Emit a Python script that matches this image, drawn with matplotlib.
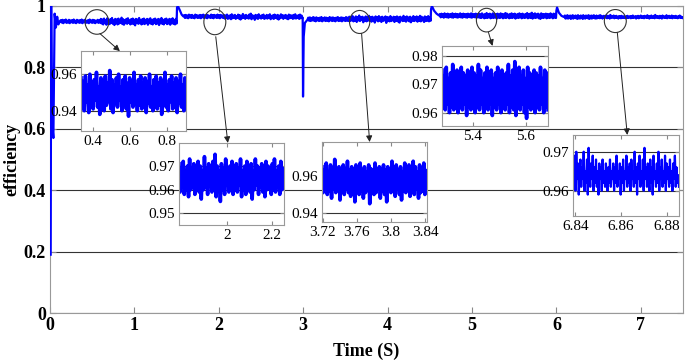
import numpy as np
import matplotlib
matplotlib.use("Agg")
import matplotlib.pyplot as plt
from matplotlib.patches import Ellipse

plt.rcParams['font.family'] = ['Liberation Serif', 'DejaVu Serif']

# ---- main trace ----
start_t = [0.008, 0.014, 0.024, 0.04, 0.055, 0.07, 0.085, 0.10, 0.12]
start_v = [0.19, 1.0, 0.62, 0.57, 0.975, 0.93, 0.965, 0.94, 0.952]

seg1 = [0.954, 0.946, 0.955, 0.944, 0.953, 0.947, 0.956, 0.945, 0.952, 0.946,
        0.955, 0.944, 0.953, 0.947, 0.954, 0.945, 0.956, 0.946, 0.952, 0.944,
        0.955, 0.947, 0.953, 0.945, 0.954, 0.946, 0.956, 0.944, 0.953, 0.947,
        0.955, 0.945, 0.952, 0.946, 0.954, 0.944, 0.956, 0.947, 0.953, 0.945,
        0.955, 0.946, 0.954, 0.944, 0.952, 0.947, 0.955, 0.945, 0.953, 0.946]
seg2 = [0.970, 0.961, 0.971, 0.962, 0.969, 0.960, 0.972, 0.963, 0.970, 0.961,
        0.971, 0.962, 0.968, 0.960, 0.972, 0.963, 0.970, 0.961, 0.969, 0.962,
        0.971, 0.960, 0.970, 0.963, 0.972, 0.961, 0.969, 0.962, 0.971, 0.960,
        0.970, 0.963, 0.968, 0.961, 0.972, 0.962, 0.970, 0.960, 0.971, 0.963,
        0.969, 0.961, 0.972, 0.962, 0.970, 0.960, 0.971, 0.963, 0.969, 0.961]
seg3 = [0.962, 0.952, 0.963, 0.951, 0.961, 0.953, 0.964, 0.952, 0.962, 0.950,
        0.963, 0.953, 0.961, 0.951, 0.962, 0.952, 0.964, 0.950, 0.961, 0.953,
        0.963, 0.951, 0.962, 0.952, 0.961, 0.950, 0.964, 0.953, 0.962, 0.951,
        0.963, 0.952, 0.961, 0.950, 0.962, 0.953, 0.964, 0.951, 0.961, 0.952,
        0.963, 0.950, 0.962, 0.953, 0.961, 0.951, 0.964, 0.952, 0.962, 0.951]
seg4 = [0.974, 0.963, 0.975, 0.964, 0.973, 0.962, 0.976, 0.964, 0.974, 0.963,
        0.975, 0.962, 0.973, 0.964, 0.974, 0.963, 0.976, 0.962, 0.973, 0.964,
        0.975, 0.963, 0.974, 0.962, 0.973, 0.964, 0.976, 0.963, 0.974, 0.962,
        0.975, 0.964, 0.973, 0.963, 0.974, 0.962, 0.975, 0.964, 0.973, 0.963,
        0.976, 0.962, 0.974, 0.964, 0.973, 0.963, 0.975, 0.962, 0.974, 0.963]
seg5 = [0.969, 0.959, 0.968, 0.960, 0.970, 0.959, 0.967, 0.961, 0.969, 0.958,
        0.968, 0.960, 0.970, 0.959, 0.967, 0.961, 0.969, 0.960, 0.968, 0.958,
        0.970, 0.960, 0.967, 0.959, 0.969, 0.961, 0.968, 0.958, 0.970, 0.960,
        0.967, 0.959, 0.969, 0.961, 0.968, 0.960, 0.970, 0.958, 0.967, 0.960,
        0.969, 0.959, 0.968, 0.961, 0.970, 0.960, 0.967, 0.959, 0.969, 0.960]
seg_spans = [(0.13, 1.50), (1.59, 2.99), (3.06, 4.51), (4.62, 5.995), (6.10, 7.5)]

step1_t = [1.505, 1.515, 1.54, 1.56, 1.58]
step1_v = [0.995, 1.0, 0.985, 0.972, 0.966]
dip_t = [2.994, 2.998, 3.006, 3.02, 3.05]
dip_v = [0.962, 0.705, 0.90, 0.945, 0.955]
step2_t = [4.515, 4.525, 4.55, 4.58, 4.61]
step2_v = [0.99, 1.0, 0.985, 0.975, 0.969]
step3_t = [6.0, 6.008, 6.03, 6.06, 6.09]
step3_v = [0.985, 0.995, 0.978, 0.968, 0.964]

# ---- zoomed windows ----
ins1 = [0.958, 0.943, 0.956, 0.940, 0.959, 0.945, 0.954, 0.939, 0.960, 0.944,
        0.955, 0.941, 0.957, 0.946, 0.961, 0.942, 0.953, 0.938, 0.958, 0.944,
        0.956, 0.940, 0.959, 0.943, 0.955, 0.945, 0.962, 0.941, 0.957, 0.939,
        0.954, 0.944, 0.958, 0.942, 0.960, 0.946, 0.953, 0.940, 0.957, 0.943,
        0.959, 0.941, 0.955, 0.937, 0.958, 0.945, 0.956, 0.942, 0.961, 0.944,
        0.954, 0.940, 0.957, 0.943, 0.959, 0.941, 0.955, 0.946, 0.958, 0.939,
        0.956, 0.944, 0.960, 0.942, 0.953, 0.940, 0.957, 0.945, 0.959, 0.941,
        0.955, 0.943, 0.958, 0.938, 0.956, 0.944, 0.961, 0.942, 0.954, 0.940,
        0.957, 0.945, 0.959, 0.941, 0.955, 0.943, 0.958, 0.939, 0.956, 0.944,
        0.960, 0.942, 0.954, 0.940, 0.958, 0.943]
ins2 = [0.971, 0.959, 0.969, 0.961, 0.972, 0.958, 0.968, 0.960, 0.970, 0.957,
        0.973, 0.960, 0.969, 0.962, 0.971, 0.958, 0.967, 0.961, 0.972, 0.959,
        0.970, 0.956, 0.968, 0.960, 0.974, 0.961, 0.969, 0.958, 0.971, 0.962,
        0.968, 0.959, 0.972, 0.960, 0.975, 0.957, 0.970, 0.961, 0.968, 0.955,
        0.971, 0.960, 0.969, 0.958, 0.973, 0.962, 0.968, 0.959, 0.970, 0.961,
        0.972, 0.958, 0.967, 0.960, 0.971, 0.959, 0.969, 0.962, 0.973, 0.957,
        0.968, 0.960, 0.970, 0.958, 0.972, 0.961, 0.969, 0.959, 0.971, 0.956,
        0.968, 0.960, 0.973, 0.962, 0.970, 0.958, 0.969, 0.961, 0.971, 0.959,
        0.968, 0.957, 0.972, 0.960, 0.970, 0.962, 0.969, 0.958, 0.971, 0.960,
        0.973, 0.959, 0.968, 0.961, 0.970, 0.958, 0.972, 0.960, 0.969, 0.961]
ins3 = [0.965, 0.951, 0.963, 0.953, 0.967, 0.950, 0.962, 0.952, 0.966, 0.948,
        0.964, 0.953, 0.969, 0.951, 0.963, 0.954, 0.965, 0.947, 0.962, 0.952,
        0.966, 0.950, 0.964, 0.953, 0.968, 0.951, 0.963, 0.949, 0.965, 0.952,
        0.962, 0.946, 0.966, 0.953, 0.964, 0.950, 0.967, 0.952, 0.963, 0.948,
        0.965, 0.951, 0.962, 0.953, 0.966, 0.945, 0.964, 0.952, 0.963, 0.950,
        0.967, 0.951, 0.962, 0.953, 0.965, 0.948, 0.964, 0.952, 0.966, 0.950,
        0.963, 0.946, 0.965, 0.953, 0.962, 0.951, 0.968, 0.952, 0.964, 0.949,
        0.966, 0.953, 0.963, 0.950, 0.965, 0.947, 0.962, 0.952, 0.967, 0.951,
        0.964, 0.953, 0.966, 0.949, 0.963, 0.952, 0.968, 0.950, 0.965, 0.953,
        0.962, 0.948, 0.966, 0.951, 0.964, 0.952, 0.967, 0.950, 0.963, 0.952]
ins4 = [0.975, 0.962, 0.973, 0.961, 0.976, 0.963, 0.972, 0.960, 0.974, 0.962,
        0.977, 0.961, 0.973, 0.963, 0.975, 0.960, 0.972, 0.962, 0.976, 0.961,
        0.974, 0.963, 0.973, 0.959, 0.975, 0.962, 0.972, 0.961, 0.976, 0.963,
        0.974, 0.960, 0.973, 0.962, 0.977, 0.961, 0.975, 0.963, 0.972, 0.960,
        0.974, 0.962, 0.976, 0.961, 0.973, 0.963, 0.975, 0.959, 0.972, 0.962,
        0.974, 0.961, 0.976, 0.963, 0.973, 0.960, 0.975, 0.962, 0.972, 0.961,
        0.974, 0.963, 0.977, 0.960, 0.973, 0.962, 0.975, 0.961, 0.978, 0.959,
        0.974, 0.962, 0.976, 0.961, 0.973, 0.963, 0.975, 0.960, 0.972, 0.958,
        0.976, 0.962, 0.974, 0.961, 0.973, 0.963, 0.975, 0.960, 0.974, 0.962,
        0.973, 0.961, 0.976, 0.963, 0.972, 0.960, 0.975, 0.962, 0.974, 0.961]
ins5 = [0.966, 0.962, 0.969, 0.960, 0.970, 0.963, 0.967, 0.959, 0.964, 0.968,
        0.961, 0.966, 0.963, 0.970, 0.960, 0.965, 0.962, 0.968, 0.959, 0.971,
        0.964, 0.961, 0.967, 0.963, 0.969, 0.960, 0.966, 0.962, 0.968, 0.961,
        0.965, 0.959, 0.967, 0.963, 0.966, 0.960, 0.968, 0.962, 0.965, 0.961,
        0.967, 0.964, 0.960, 0.966, 0.962, 0.968, 0.961, 0.965, 0.963, 0.967,
        0.960, 0.966, 0.962, 0.969, 0.961, 0.965, 0.963, 0.967, 0.959, 0.966,
        0.962, 0.968, 0.960, 0.965, 0.963, 0.969, 0.961, 0.966, 0.962, 0.967,
        0.960, 0.968, 0.963, 0.965, 0.961, 0.970, 0.962, 0.966, 0.959, 0.967,
        0.963, 0.969, 0.961, 0.965, 0.962, 0.968, 0.960, 0.971, 0.963, 0.966,
        0.961, 0.967, 0.964, 0.960, 0.968, 0.962, 0.966, 0.959, 0.969, 0.963,
        0.965, 0.961, 0.967, 0.962, 0.970, 0.960, 0.966, 0.963, 0.968, 0.961,
        0.965, 0.962, 0.969, 0.960, 0.967, 0.963, 0.966, 0.961, 0.968, 0.962,
        0.965, 0.960, 0.967, 0.963, 0.969, 0.961, 0.966, 0.962, 0.964, 0.961]

insets = [
    # values, xlim, ylim, xticks, xticklabels, yticks, yticklabels, pixel box (x0, top, x1, bottom), lw
    (ins1, (0.335, 0.903), (0.9289, 0.9727), [0.4, 0.6, 0.8], ['0.4', '0.6', '0.8'],
     [0.94, 0.96], ['0.94', '0.96'], (81, 51, 186, 131), 2.6),
    (ins2, (1.787, 2.253), (0.945, 0.9798), [2.0, 2.2], ['2', '2.2'],
     [0.95, 0.96, 0.97], ['0.95', '0.96', '0.97'], (179, 143, 284, 225), 2.6),
    (ins3, (3.719, 3.842), (0.9351, 0.9784), [3.72, 3.76, 3.80, 3.84], ['3.72', '3.76', '3.8', '3.84'],
     [0.94, 0.96], ['0.94', '0.96'], (322, 142, 427, 222), 2.6),
    (ins4, (5.283, 5.683), (0.9553, 0.9835), [5.4, 5.6], ['5.4', '5.6'],
     [0.96, 0.97, 0.98], ['0.96', '0.97', '0.98'], (442, 46, 548, 126), 2.6),
    (ins5, (6.839, 6.8852), (0.9535, 0.9743), [6.84, 6.86, 6.88], ['6.84', '6.86', '6.88'],
     [0.96, 0.97], ['0.96', '0.97'], (573, 135, 679, 216), 1.6),
]

# circles (centre t, centre v, width, height) and arrows (from, to) in data units
circles = [(0.556, 0.948, 0.28, 0.08), (1.953, 0.948, 0.26, 0.083),
           (3.669, 0.948, 0.24, 0.075), (5.172, 0.954, 0.24, 0.077),
           (6.698, 0.951, 0.26, 0.075)]
arrows = [((0.592, 0.910), (0.828, 0.853)), ((1.964, 0.900), (2.107, 0.554)),
          ((3.692, 0.910), (3.787, 0.557)), ((5.195, 0.914), (5.243, 0.870)),
          ((6.722, 0.913), (6.840, 0.580))]

BLUE = '#0000ff'
W, H = 685, 363

# assemble main trace; the steady parts carry both the coarse and the zoomed readings
segs = [seg1 + ins1, seg2 + ins2, seg3 + ins3, seg4 + ins4, seg5 + ins5]
trans = [(step1_t, step1_v), (dip_t, dip_v), (step2_t, step2_v), (step3_t, step3_v)]
t_all = list(start_t)
v_all = list(start_v)
for i, s in enumerate(segs):
    a, b = seg_spans[i]
    t_all += list(np.linspace(a, b, len(s)))
    v_all += s
    if i < len(trans):
        t_all += trans[i][0]
        v_all += trans[i][1]

fig = plt.figure(figsize=(W / 100, H / 100), dpi=100)
ax = fig.add_axes([50 / W, (H - 313) / H, (683 - 50) / W, (313 - 6) / H])
ax.plot(t_all, v_all, color=BLUE, lw=1.6, zorder=3)
ax.set_xlim(0, 7.5)
ax.set_ylim(0, 1)
ax.set_xticks(range(8))
ax.set_yticks([0, 0.2, 0.4, 0.6, 0.8, 1.0])
ax.set_yticklabels(['0', '0.2', '0.4', '0.6', '0.8', '1'])
ax.grid(axis='y', color='#333333', lw=0.8)
ax.tick_params(direction='in', top=True, right=True, length=4, color='#888888',
               labelsize=13, pad=3)
for lab in ax.get_xticklabels() + ax.get_yticklabels():
    lab.set_fontweight('bold')
for sp in ax.spines.values():
    sp.set_color('#999999')
ax.set_xlabel('Time (S)', fontsize=13, fontweight='bold', labelpad=6)
ax.set_ylabel('efficiency', fontsize=13, fontweight='bold', labelpad=2)

for (cx, cy, cw, ch) in circles:
    ax.add_patch(Ellipse((cx, cy), cw, ch, fill=False, ec='#333333', lw=0.8, zorder=5))
for (p0, p1) in arrows:
    ax.annotate('', xy=p1, xytext=p0,
                arrowprops=dict(arrowstyle='-|>', color='#222222', lw=0.7,
                                mutation_scale=9, shrinkA=0, shrinkB=0), zorder=6)

for vals, xl, yl, xt, xtl, yt, ytl, (x0, y0, x1, y1), lw in insets:
    ia = fig.add_axes([x0 / W, (H - y1) / H, (x1 - x0) / W, (y1 - y0) / H])
    ia.set_facecolor('white')
    ia.plot(np.linspace(xl[0], xl[1], len(vals)), vals, color=BLUE, lw=lw)
    ia.set_xlim(*xl)
    ia.set_ylim(*yl)
    ia.set_xticks(xt)
    ia.set_xticklabels(xtl)
    ia.set_yticks(yt)
    ia.set_yticklabels(ytl)
    ia.grid(axis='y', color='#333333', lw=0.8)
    ia.set_axisbelow(True)
    ia.tick_params(direction='in', top=True, right=True, length=3, color='#888888',
                   labelsize=11, pad=3)
    for sp in ia.spines.values():
        sp.set_color('#999999')

fig.savefig('out.png', dpi=100)
